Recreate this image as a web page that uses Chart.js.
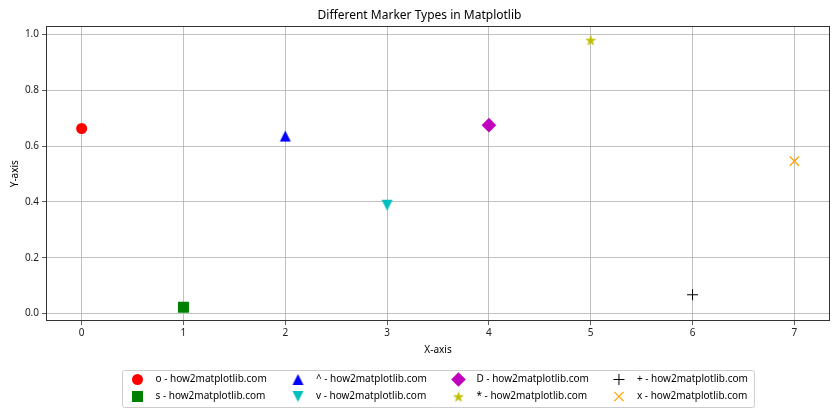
<!DOCTYPE html>
<html>
<head>
<meta charset="utf-8">
<script src="https://cdn.jsdelivr.net/npm/chart.js@4.4.1/dist/chart.umd.min.js"></script>
<style>
  body { margin: 0; background: #fff; }
  #wrap { width: 840px; height: 420px; }
</style>
</head>
<body>
<div id="wrap"><canvas id="markerChart" width="840" height="420"></canvas></div>
<script>
// 데이터
const xValues = [0, 1, 2, 3, 4, 5, 6, 7];
const yValues = [0.663, 0.022, 0.636, 0.388, 0.675, 0.98, 0.067, 0.546];
const markers = ["o", "s", "^", "v", "D", "*", "+", "x"];
const markerColors = ["#ff0000", "#008000", "#0000ff", "#00bfbf", "#bf00bf", "#bfbf00", "#000000", "#ffa500"];
const xTicks = [0, 1, 2, 3, 4, 5, 6, 7];
const yTicks = [0, 0.2, 0.4, 0.6, 0.8, 1.0];

// 삼각형 / 별 마커 이미지
let makeTriangle = function(color, down){
    let c = document.createElement("canvas");
    c.width = 13; c.height = 13;
    let g = c.getContext("2d");
    g.fillStyle = color;
    g.beginPath();
    if (down) {
        g.moveTo(6.5, 12); g.lineTo(1, 1); g.lineTo(12, 1);
    } else {
        g.moveTo(6.5, 1); g.lineTo(1, 12); g.lineTo(12, 12);
    }
    g.closePath();
    g.fill();
    return c;
}

let makeStar = function(color){
    let c = document.createElement("canvas");
    c.width = 14; c.height = 14;
    let g = c.getContext("2d");
    let R = 6, r = R * 0.382;
    g.fillStyle = color;
    g.beginPath();
    for (let i = 0; i < 10; i++) {
        let a = -Math.PI / 2 + i * Math.PI / 5;
        let rr = i % 2 === 0 ? R : r;
        let px = 7 + Math.cos(a) * rr, py = 7.6 + Math.sin(a) * rr;
        if (i === 0) g.moveTo(px, py); else g.lineTo(px, py);
    }
    g.closePath();
    g.fill();
    return c;
}

let markerStyle = function(m, color){
    switch (m) {
        case "o": return { pointStyle: "circle", radius: 5.5, rotation: 0, borderWidth: 0 };
        case "s": return { pointStyle: "rect", radius: 7.8, rotation: 0, borderWidth: 0 };
        case "^": return { pointStyle: makeTriangle(color, false), radius: 6, rotation: 0, borderWidth: 0 };
        case "v": return { pointStyle: makeTriangle(color, true), radius: 6, rotation: 0, borderWidth: 0 };
        case "D": return { pointStyle: "rectRot", radius: 7.3, rotation: 0, borderWidth: 0 };
        case "*": return { pointStyle: makeStar(color), radius: 6, rotation: 0, borderWidth: 0 };
        case "+": return { pointStyle: "cross", radius: 5.5, rotation: 0, borderWidth: 1 };
        case "x": return { pointStyle: "crossRot", radius: 6.5, rotation: 0, borderWidth: 1.3 };
    }
}

let datasets = markers.map(function(m, i){
    let st = markerStyle(m, markerColors[i]);
    return {
        label: m + " - how2matplotlib.com",
        data: [{ x: xValues[i], y: yValues[i] }],
        pointStyle: st.pointStyle,
        pointRadius: st.radius,
        pointRotation: st.rotation,
        pointBorderWidth: st.borderWidth,
        backgroundColor: markerColors[i],
        borderColor: markerColors[i],
        showLine: false
    };
});

// 축 테두리
const framePlugin = {
    id: "frame",
    afterDatasetsDraw: function(chart){
        let a = chart.chartArea, ctx = chart.ctx;
        ctx.save();
        ctx.strokeStyle = "#333333";
        ctx.lineWidth = 1;
        ctx.strokeRect(Math.round(a.left) + 0.5, Math.round(a.top) + 0.5, Math.round(a.right - a.left) - 1, Math.round(a.bottom - a.top) - 1);
        ctx.restore();
    }
};

// 범례 (4열, 열 우선)
const legendPlugin = {
    id: "mplLegend",
    afterDraw: function(chart){
        let ctx = chart.ctx, a = chart.chartArea;
        let sets = chart.data.datasets;
        let ncol = 4, nrow = Math.ceil(sets.length / ncol);
        let handle = 20, hpad = 8, colSpace = 20, pad = 5, rowH = 17;
        ctx.save();
        ctx.font = "10px 'Noto Sans'";
        let maxW = 0;
        sets.forEach(function(d){ maxW = Math.max(maxW, ctx.measureText(d.label).width); });
        let colW = handle + hpad + maxW;
        let boxW = pad * 2 + ncol * colW + (ncol - 1) * colSpace;
        let boxH = 37;
        let cx = (a.left + a.right) / 2;
        let left = Math.round(cx - boxW / 2) + 0.5;
        let top = Math.round(a.bottom + 49) + 0.5;
        ctx.fillStyle = "rgba(255,255,255,0.8)";
        ctx.strokeStyle = "#cccccc";
        ctx.lineWidth = 1;
        ctx.beginPath();
        if (ctx.roundRect) ctx.roundRect(left, top, boxW, boxH, 2); else ctx.rect(left, top, boxW, boxH);
        ctx.fill();
        ctx.stroke();
        sets.forEach(function(d, i){
            let col = Math.floor(i / nrow), row = i % nrow;
            let x0 = left + pad + col * (colW + colSpace);
            let y = top + 9 + row * rowH;
            ctx.fillStyle = d.backgroundColor;
            ctx.strokeStyle = d.borderColor;
            ctx.lineWidth = d.pointBorderWidth;
            Chart.helpers.drawPoint(ctx, {
                pointStyle: d.pointStyle,
                radius: d.pointRadius,
                rotation: d.pointRotation,
                borderWidth: d.pointBorderWidth
            }, x0 + handle / 2, y);
            ctx.fillStyle = "#000000";
            ctx.textBaseline = "middle";
            ctx.textAlign = "left";
            ctx.fillText(d.label, x0 + handle + hpad, y);
        });
        ctx.restore();
    }
};

Chart.defaults.font.family = "'Noto Sans'";
Chart.defaults.color = "#222222";

let ctx = document.getElementById("markerChart").getContext("2d");
let myChart = new Chart(ctx, {
    type: "scatter",
    data: { datasets: datasets },
    options: {
        responsive: false,
        animation: false,
        events: [],
        layout: { padding: { left: 9, right: 10, top: 0, bottom: 64 } },
        plugins: {
            legend: { display: false },
            tooltip: { enabled: false },
            title: {
                display: true,
                text: "Different Marker Types in Matplotlib",
                color: "#000000",
                font: { size: 12, weight: "normal" },
                padding: { top: 8, bottom: 4 }
            }
        },
        scales: {
            x: {
                type: "linear",
                min: -0.35,
                max: 7.35,
                afterBuildTicks: function(scale){ scale.ticks = xTicks.map(function(v){ return { value: v }; }); },
                afterFit: function(scale){ scale.height = 35; },
                ticks: { font: { size: 10 }, padding: 2, maxRotation: 0, callback: function(v){ return String(v); } },
                grid: { color: "#b0b0b0", lineWidth: 0.8, tickColor: "#333333", tickLength: 4 },
                border: { display: false },
                title: { display: true, text: "X-axis", color: "#000000", font: { size: 10 }, padding: { top: 4, bottom: 0 } }
            },
            y: {
                type: "linear",
                min: -0.027,
                max: 1.029,
                afterBuildTicks: function(scale){ scale.ticks = yTicks.map(function(v){ return { value: v }; }); },
                afterFit: function(scale){ scale.width = 37; },
                ticks: { font: { size: 10 }, padding: 3, callback: function(v){ return v.toFixed(1); } },
                grid: { color: "#b0b0b0", lineWidth: 0.8, tickColor: "#333333", tickLength: 4 },
                border: { display: false },
                title: { display: true, text: "Y-axis", color: "#000000", font: { size: 10 }, padding: { top: 0, bottom: 0 } }
            }
        }
    },
    plugins: [framePlugin, legendPlugin]
});
</script>
</body>
</html>
